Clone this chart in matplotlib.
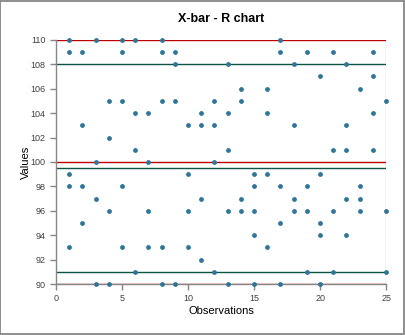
import matplotlib.pyplot as plt
from matplotlib.patches import Rectangle

plt.rcParams['font.family'] = ['Liberation Sans', 'DejaVu Sans']

# observations (x) and their values (y)
obs = [1, 1, 1, 1, 1,
       2, 2, 2, 2,
       3, 3, 3, 3,
       4, 4, 4, 4,
       5, 5, 5, 5, 5,
       6, 6, 6, 6,
       7, 7, 7, 7,
       8, 8, 8, 8, 8,
       9, 9, 9, 9,
       10, 10, 10, 10,
       11, 11, 11, 11,
       12, 12, 12, 12,
       13, 13, 13, 13, 13,
       14, 14, 14, 14,
       15, 15, 15, 15, 15,
       16, 16, 16, 16,
       17, 17, 17, 17, 17,
       18, 18, 18, 18,
       19, 19, 19, 19,
       20, 20, 20, 20, 20,
       21, 21, 21, 21,
       22, 22, 22, 22, 22,
       23, 23, 23, 23,
       24, 24, 24, 24,
       25, 25, 25]
values = [110, 109, 99, 98, 93,
          109, 103, 98, 95,
          110, 100, 97, 90,
          105, 102, 96, 90,
          110, 109, 105, 98, 93,
          110, 104, 101, 91,
          104, 100, 96, 93,
          110, 109, 105, 93, 90,
          109, 108, 105, 90,
          103, 99, 96, 93,
          104, 103, 97, 92,
          105, 103, 100, 91,
          108, 104, 101, 96, 90,
          106, 105, 97, 96,
          99, 98, 96, 94, 90,
          106, 104, 99, 93,
          110, 109, 98, 95, 90,
          108, 103, 97, 96,
          109, 98, 96, 91,
          107, 99, 95, 94, 90,
          109, 101, 96, 91,
          108, 103, 101, 97, 94,
          106, 98, 97, 96,
          109, 107, 104, 101,
          105, 96, 91]

# control limits
red_limits = [110, 100, 90]
green_limits = [108, 99.5, 91]

fig = plt.figure(figsize=(4.06, 3.35), dpi=100)
ax = fig.add_axes([0.138, 0.152, 0.813, 0.729])

ax.hlines(red_limits, 0, 25, color='#C00000', lw=1.0, zorder=2)
ax.hlines(green_limits, 0, 25, color='#0E5445', lw=1.0, zorder=2)
ax.axvline(25, color='#BDBDBD', lw=1.0, zorder=1)

ax.scatter(obs, values, s=12, color='#2E7598', zorder=3, clip_on=False, linewidths=0)

ax.set_xlim(0, 25)
ax.set_ylim(90, 110)
ax.set_xticks(range(0, 26, 5))
ax.set_yticks(range(90, 111, 2))

for s in ['top', 'right']:
    ax.spines[s].set_visible(False)
for s in ['left', 'bottom']:
    ax.spines[s].set_color('#868686')
    ax.spines[s].set_linewidth(1.0)
ax.tick_params(axis='both', colors='#868686', labelcolor='#404040', labelsize=6.5,
               length=4, width=1.0, direction='out')

ax.set_xlabel('Observations', fontsize=8, labelpad=2)
ax.set_ylabel('Values', fontsize=8, labelpad=0)
ax.set_title('X-bar - R chart', fontsize=9, fontweight='bold', pad=13)

fig.patches.append(Rectangle((0.001, 0.002), 0.995, 0.995, transform=fig.transFigure,
                             fill=False, edgecolor='#868686', lw=1.3))

plt.savefig('out.png', dpi=100)
